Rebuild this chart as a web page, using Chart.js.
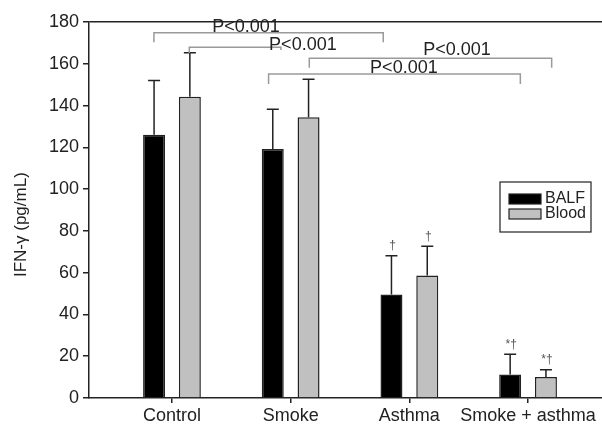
<!DOCTYPE html>
<html>
<head>
<meta charset="utf-8">
<script src="https://cdn.jsdelivr.net/npm/chart.js@4.4.1/dist/chart.umd.min.js"></script>
<style>
  html, body { margin: 0; padding: 0; background: #fff; }
  #wrap { width: 602px; height: 424px; }
</style>
</head>
<body>
<div id="wrap"><canvas id="chart"></canvas></div>
<script>
// data
const categories = ['Control', 'Smoke', 'Asthma', 'Smoke + asthma'];
const balf = [126, 119.2, 49.5, 11.3];
const balfSD = [26, 19, 18.6, 9.6];
const blood = [144.2, 134.4, 58.7, 10];
const bloodSD = [21.1, 18.2, 13.9, 3.5];
const balfMarks = ['', '', '†', '*†'];
const bloodMarks = ['', '', '†', '*†'];
const yMin = 0, yMax = 180, yStep = 20;

// significance brackets (x in category units, y in pg/mL)
const bracketText = ['P<0.001', 'P<0.001', 'P<0.001', 'P<0.001'];
const bracketStart = [-0.152, 0.146, 1.157, 0.814];
const bracketEnd = [1.78, 0.918, 3.199, 2.935];
const bracketLevel = [174.9, 167.9, 162.6, 155.1];
const bracketStartLeg = [170.3, 165.2, 158.1, 150.3];
const bracketEndLeg = [170.3, 166.6, 158.1, 150.3];
const bracketTextX = [0.624, 1.103, 2.401, 1.954];
const bracketTextY = [177.8, 169.0, 166.6, 158.0];

const FONT = 'Liberation Sans, Arial, Helvetica, sans-serif';

function pts(vals) {
  return vals.map((v, i) => ({ x: i, y: v }));
}

const errorBars = {
  id: 'errorBars',
  afterDatasetsDraw(chart) {
    const ctx = chart.ctx;
    const y = chart.scales.y;
    const sds = [balfSD, bloodSD];
    const marks = [balfMarks, bloodMarks];
    ctx.save();
    chart.data.datasets.forEach((ds, di) => {
      const meta = chart.getDatasetMeta(di);
      meta.data.forEach((bar, i) => {
        const top = y.getPixelForValue(ds.data[i].y + sds[di][i]);
        ctx.strokeStyle = '#222';
        ctx.lineWidth = 1.5;
        ctx.beginPath();
        ctx.moveTo(bar.x, bar.y);
        ctx.lineTo(bar.x, top);
        ctx.moveTo(bar.x - 6, top);
        ctx.lineTo(bar.x + 6, top);
        ctx.stroke();
        if (marks[di][i]) {
          ctx.fillStyle = '#555';
          ctx.font = '12px ' + FONT;
          ctx.textAlign = 'center';
          ctx.textBaseline = 'bottom';
          ctx.fillText(marks[di][i], bar.x + 1, top - 4);
        }
      });
    });
    ctx.restore();
  }
};

const brackets = {
  id: 'brackets',
  afterDraw(chart) {
    const ctx = chart.ctx;
    const x = chart.scales.x, y = chart.scales.y;
    ctx.save();
    bracketText.forEach((t, i) => {
      const x1 = x.getPixelForValue(bracketStart[i]);
      const x2 = x.getPixelForValue(bracketEnd[i]);
      const yl = y.getPixelForValue(bracketLevel[i]);
      ctx.strokeStyle = '#9a9a9a';
      ctx.lineWidth = 1.5;
      ctx.beginPath();
      ctx.moveTo(x1, y.getPixelForValue(bracketStartLeg[i]));
      ctx.lineTo(x1, yl);
      ctx.lineTo(x2, yl);
      ctx.lineTo(x2, y.getPixelForValue(bracketEndLeg[i]));
      ctx.stroke();
    });
    bracketText.forEach((t, i) => {
      ctx.fillStyle = '#222';
      ctx.font = '18px ' + FONT;
      ctx.textAlign = 'center';
      ctx.textBaseline = 'middle';
      ctx.fillText(t, x.getPixelForValue(bracketTextX[i]), y.getPixelForValue(bracketTextY[i]));
    });

    // y axis title
    ctx.save();
    ctx.translate(21, y.getPixelForValue(83));
    ctx.rotate(-Math.PI / 2);
    ctx.fillStyle = '#222';
    ctx.font = '17px ' + FONT;
    ctx.textAlign = 'center';
    ctx.textBaseline = 'middle';
    ctx.fillText('IFN-\u03B3 (pg/mL)', 0, 0);
    ctx.restore();

    // legend box inside the plot
    const a = chart.chartArea;
    const lx = a.right - 102, ly = a.top + 160;
    ctx.strokeStyle = '#222';
    ctx.lineWidth = 1.2;
    ctx.strokeRect(lx, ly, 91, 50);
    chart.data.datasets.forEach((ds, di) => {
      const sy = ly + 12 + di * 15;
      ctx.fillStyle = ds.backgroundColor;
      ctx.fillRect(lx + 9, sy, 32, 10);
      ctx.strokeStyle = '#222';
      ctx.lineWidth = 1.2;
      ctx.strokeRect(lx + 9, sy, 32, 10);
      ctx.fillStyle = '#222';
      ctx.font = '16px ' + FONT;
      ctx.textAlign = 'left';
      ctx.textBaseline = 'middle';
      ctx.fillText(ds.label, lx + 45, sy + 5);
    });
    ctx.restore();
  }
};

new Chart(document.getElementById('chart'), {
  type: 'bar',
  data: {
    datasets: [
      { label: 'BALF', data: pts(balf), backgroundColor: '#000000', borderColor: '#222', borderWidth: 1.5 },
      { label: 'Blood', data: pts(blood), backgroundColor: '#c0c0c0', borderColor: '#222', borderWidth: 1.5 }
    ]
  },
  options: {
    responsive: true,
    maintainAspectRatio: false,
    animation: false,
    events: [],
    layout: { padding: { top: 22, right: 0, bottom: 0, left: 0 } },
    datasets: { bar: { categoryPercentage: 0.603, barPercentage: 0.614 } },
    plugins: { legend: { display: false }, tooltip: { enabled: false } },
    scales: {
      x: {
        type: 'linear',
        offset: false,
        min: -0.699,
        max: 3.623,
        afterBuildTicks: s => { s.ticks = categories.map((c, i) => ({ value: i })); },
        afterFit: s => { s.height = 26; },
        ticks: {
          callback: v => categories[v],
          autoSkip: false,
          maxRotation: 0,
          padding: 2,
          color: '#222',
          font: { family: FONT, size: 18 }
        },
        grid: { offset: false, drawOnChartArea: false, tickLength: 5, color: '#222', lineWidth: 1.5 },
        border: { color: '#222', width: 1.5 }
      },
      y: {
        min: yMin,
        max: yMax,
        afterFit: s => { s.width = 89; },
        ticks: {
          stepSize: yStep,
          padding: 4,
          color: '#222',
          font: { family: FONT, size: 18 }
        },
        grid: {
          color: c => (c.tick && c.tick.value === yMax ? '#222' : 'rgba(0,0,0,0)'),
          tickColor: '#222',
          lineWidth: 1.5,
          tickLength: 6
        },
        border: { color: '#222', width: 1.5 }
      }
    }
  },
  plugins: [errorBars, brackets]
});
</script>
</body>
</html>
